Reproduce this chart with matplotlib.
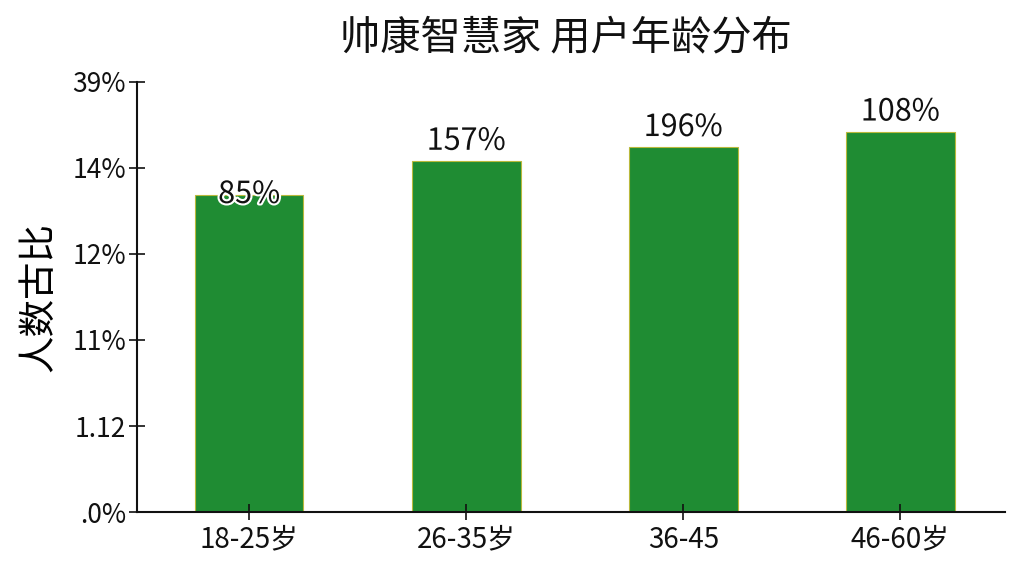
import matplotlib
matplotlib.use("Agg")
import matplotlib.pyplot as plt
import matplotlib.patheffects as pe
import numpy as np

# data (y axis uses evenly spaced, oddly labelled ticks)
age_groups = ["18-25岁", "26-35岁", "36-45", "46-60岁"]
bar_heights = [3.69, 4.08, 4.24, 4.42]
bar_labels = ["85%", "157%", "196%", "108%"]
y_tick_labels = [".0%", "1.12", "11%", "12%", "14%", "39%"]

plt.rcParams["font.family"] = ["Noto Sans CJK SC", "DejaVu Sans"]

fig = plt.figure(figsize=(10.24, 5.76), dpi=100)
ax = fig.add_axes([0.134, 0.111, 0.847, 0.747])

x = np.arange(len(age_groups))
ax.bar(x, bar_heights, width=0.5, color="#1f8c33", edgecolor="#b9b93c", linewidth=0.8)

for i, (h, lab) in enumerate(zip(bar_heights, bar_labels)):
    if i == 0:
        off, va = (0, 0), "center"
    else:
        off, va = (0, 3), "bottom"
    ax.annotate(lab, xy=(x[i], h), xytext=off, textcoords="offset points",
                ha="center", va=va, fontsize=22, color="#111111",
                path_effects=[pe.withStroke(linewidth=3, foreground="white")])

ax.set_xlim(-0.516, 3.48)
ax.set_ylim(0, 5)
ax.set_xticks(x)
ax.set_xticklabels(age_groups, fontsize=20)
ax.set_yticks(np.arange(len(y_tick_labels)))
ax.set_yticklabels(y_tick_labels, fontsize=19)
ax.tick_params(axis="both", direction="inout", length=12, width=1.2, colors="#111111")
ax.tick_params(axis="x", pad=3)
ax.tick_params(axis="y", pad=2)

for side in ["top", "right"]:
    ax.spines[side].set_visible(False)
for side in ["left", "bottom"]:
    ax.spines[side].set_linewidth(1.5)
    ax.spines[side].set_color("#111111")

ax.set_ylabel("人数古比", fontsize=27, labelpad=10)
fig.text(0.553, 0.935, "帅康智慧家 用户年龄分布", ha="center", va="center", fontsize=29, color="#111111")

fig.savefig("out.png", dpi=100, facecolor="white")
